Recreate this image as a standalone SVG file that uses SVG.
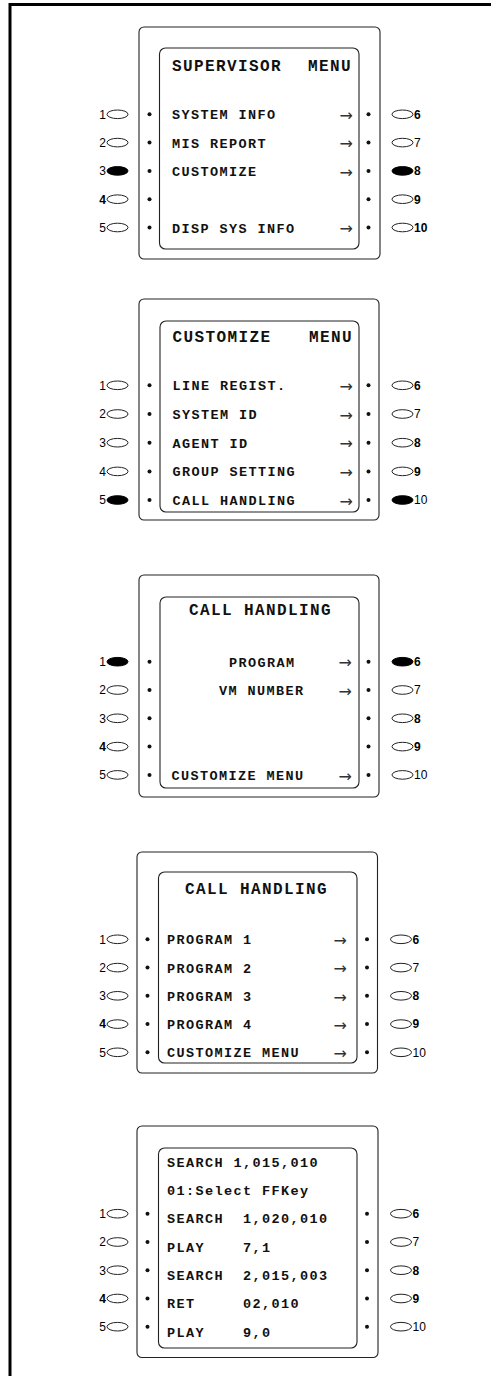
<svg xmlns="http://www.w3.org/2000/svg" width="491" height="1376" viewBox="0 0 491 1376">
<style>
.frame{fill:none;stroke:#000;stroke-width:3}
.pnl{fill:none;stroke:#222;stroke-width:1.1}
.t{font-family:"Liberation Mono","DejaVu Sans Mono",monospace;font-weight:bold;font-size:13.5px;letter-spacing:1.4px;fill:#111}
.ttl{font-size:16px;letter-spacing:1.4px}
.n{font-family:"Liberation Sans",Arial,sans-serif;font-size:12px;fill:#000}
.nr{text-anchor:end}
.b{font-weight:bold}
.a{font-family:"DejaVu Sans",sans-serif;font-size:16px;fill:#333;text-anchor:end}
.btn{fill:#fff;stroke:#222;stroke-width:1}
.on{fill:#000;stroke:#000}
.dot{fill:#111}
</style>
<defs>
<ellipse id="bt" cx="0" cy="0" rx="10.5" ry="4.3"/>
</defs>
<g id="frame">
<line class="frame" x1="10" y1="4.5" x2="491" y2="4.5"/>
<line class="frame" x1="10" y1="3" x2="10" y2="1376"/>
</g>

<g id="panel-supervisor-menu">
<rect class="pnl" x="139" y="27" width="241" height="232" rx="5"/>
<rect class="pnl" x="159.5" y="48" width="199.5" height="201" rx="6"/>
<text class="t ttl" x="172" y="71">SUPERVISOR</text>
<text class="t ttl" x="308" y="71">MENU</text>
<text class="t" x="172" y="119.3">SYSTEM INFO</text>
<text class="t" x="172" y="147.6">MIS REPORT</text>
<text class="t" x="172" y="175.9">CUSTOMIZE</text>
<text class="t" x="172" y="232.5">DISP SYS INFO</text>
<text class="a" x="353" y="121">→</text>
<text class="a" x="353" y="149.3">→</text>
<text class="a" x="353" y="177.6">→</text>
<text class="a" x="353" y="234.2">→</text>
<circle class="dot" cx="149.5" cy="114.3" r="2"/><circle class="dot" cx="149.5" cy="142.6" r="2"/><circle class="dot" cx="149.5" cy="170.9" r="2"/><circle class="dot" cx="149.5" cy="199.2" r="2"/><circle class="dot" cx="149.5" cy="227.5" r="2"/>
<circle class="dot" cx="368.5" cy="114.3" r="2"/><circle class="dot" cx="368.5" cy="142.6" r="2"/><circle class="dot" cx="368.5" cy="170.9" r="2"/><circle class="dot" cx="368.5" cy="199.2" r="2"/><circle class="dot" cx="368.5" cy="227.5" r="2"/>
<use href="#bt" class="btn" x="117.5" y="114.3"/><use href="#bt" class="btn" x="117.5" y="142.6"/><use href="#bt" class="btn on" x="117.5" y="170.9"/><use href="#bt" class="btn" x="117.5" y="199.2"/><use href="#bt" class="btn" x="117.5" y="227.5"/>
<use href="#bt" class="btn" x="402.5" y="114.3"/><use href="#bt" class="btn" x="402.5" y="142.6"/><use href="#bt" class="btn on" x="402.5" y="170.9"/><use href="#bt" class="btn" x="402.5" y="199.2"/><use href="#bt" class="btn" x="402.5" y="227.5"/>
<text class="n nr" x="106" y="118.6">1</text><text class="n nr" x="106" y="146.9">2</text><text class="n nr" x="106" y="175.2">3</text><text class="n nr b" x="106" y="203.5">4</text><text class="n nr" x="106" y="231.8">5</text>
<text class="n b" x="414" y="118.6">6</text><text class="n" x="414" y="146.9">7</text><text class="n b" x="414" y="175.2">8</text><text class="n b" x="414" y="203.5">9</text><text class="n b" x="414" y="231.8">10</text>
</g>

<g id="panel-customize-menu">
<rect class="pnl" x="139" y="299" width="240" height="221" rx="5"/>
<rect class="pnl" x="160" y="321" width="199" height="191" rx="6"/>
<text class="t ttl" x="172.5" y="341.5">CUSTOMIZE</text>
<text class="t ttl" x="309" y="341.5">MENU</text>
<text class="t" x="172.5" y="390.3">LINE REGIST.</text>
<text class="t" x="172.5" y="419">SYSTEM ID</text>
<text class="t" x="172.5" y="447.7">AGENT ID</text>
<text class="t" x="172.5" y="476.4">GROUP SETTING</text>
<text class="t" x="172.5" y="505">CALL HANDLING</text>
<text class="a" x="353" y="392">→</text>
<text class="a" x="353" y="420.7">→</text>
<text class="a" x="353" y="449.4">→</text>
<text class="a" x="353" y="478.1">→</text>
<text class="a" x="353" y="506.7">→</text>
<circle class="dot" cx="149.5" cy="385.3" r="2"/><circle class="dot" cx="149.5" cy="414" r="2"/><circle class="dot" cx="149.5" cy="442.7" r="2"/><circle class="dot" cx="149.5" cy="471.4" r="2"/><circle class="dot" cx="149.5" cy="500" r="2"/>
<circle class="dot" cx="368.5" cy="385.3" r="2"/><circle class="dot" cx="368.5" cy="414" r="2"/><circle class="dot" cx="368.5" cy="442.7" r="2"/><circle class="dot" cx="368.5" cy="471.4" r="2"/><circle class="dot" cx="368.5" cy="500" r="2"/>
<use href="#bt" class="btn" x="117.5" y="385.3"/><use href="#bt" class="btn" x="117.5" y="414"/><use href="#bt" class="btn" x="117.5" y="442.7"/><use href="#bt" class="btn" x="117.5" y="471.4"/><use href="#bt" class="btn on" x="117.5" y="500"/>
<use href="#bt" class="btn" x="402.5" y="385.3"/><use href="#bt" class="btn" x="402.5" y="414"/><use href="#bt" class="btn" x="402.5" y="442.7"/><use href="#bt" class="btn" x="402.5" y="471.4"/><use href="#bt" class="btn on" x="402.5" y="500"/>
<text class="n nr" x="106" y="389.6">1</text><text class="n nr" x="106" y="418.3">2</text><text class="n nr" x="106" y="447">3</text><text class="n nr" x="106" y="475.7">4</text><text class="n nr" x="106" y="504.3">5</text>
<text class="n b" x="414" y="389.6">6</text><text class="n" x="414" y="418.3">7</text><text class="n b" x="414" y="447">8</text><text class="n b" x="414" y="475.7">9</text><text class="n" x="414" y="504.3">10</text>
</g>

<g id="panel-call-handling">
<rect class="pnl" x="139" y="575" width="240" height="222" rx="5"/>
<rect class="pnl" x="160" y="597" width="199" height="191" rx="6"/>
<text class="t ttl" x="189" y="615">CALL HANDLING</text>
<text class="t" x="229" y="666.7">PROGRAM</text>
<text class="t" x="219" y="695">VM NUMBER</text>
<text class="t" x="171.5" y="779.9">CUSTOMIZE MENU</text>
<text class="a" x="352" y="668.4">→</text>
<text class="a" x="352" y="696.7">→</text>
<text class="a" x="352" y="781.6">→</text>
<circle class="dot" cx="149.5" cy="661.7" r="2"/><circle class="dot" cx="149.5" cy="690" r="2"/><circle class="dot" cx="149.5" cy="718.3" r="2"/><circle class="dot" cx="149.5" cy="746.6" r="2"/><circle class="dot" cx="149.5" cy="774.9" r="2"/>
<circle class="dot" cx="368.5" cy="661.7" r="2"/><circle class="dot" cx="368.5" cy="690" r="2"/><circle class="dot" cx="368.5" cy="718.3" r="2"/><circle class="dot" cx="368.5" cy="746.6" r="2"/><circle class="dot" cx="368.5" cy="774.9" r="2"/>
<use href="#bt" class="btn on" x="117.5" y="661.7"/><use href="#bt" class="btn" x="117.5" y="690"/><use href="#bt" class="btn" x="117.5" y="718.3"/><use href="#bt" class="btn" x="117.5" y="746.6"/><use href="#bt" class="btn" x="117.5" y="774.9"/>
<use href="#bt" class="btn on" x="402.5" y="661.7"/><use href="#bt" class="btn" x="402.5" y="690"/><use href="#bt" class="btn" x="402.5" y="718.3"/><use href="#bt" class="btn" x="402.5" y="746.6"/><use href="#bt" class="btn" x="402.5" y="774.9"/>
<text class="n nr" x="106" y="666">1</text><text class="n nr" x="106" y="694.3">2</text><text class="n nr" x="106" y="722.6">3</text><text class="n nr b" x="106" y="750.9">4</text><text class="n nr" x="106" y="779.2">5</text>
<text class="n b" x="414" y="666">6</text><text class="n" x="414" y="694.3">7</text><text class="n b" x="414" y="722.6">8</text><text class="n b" x="414" y="750.9">9</text><text class="n" x="414" y="779.2">10</text>
</g>

<g id="panel-call-handling-programs">
<rect class="pnl" x="137" y="852" width="240.5" height="221" rx="5"/>
<rect class="pnl" x="158.5" y="872" width="198.5" height="191" rx="6"/>
<text class="t ttl" x="185" y="894">CALL HANDLING</text>
<text class="t" x="167" y="944.3">PROGRAM 1</text>
<text class="t" x="167" y="972.6">PROGRAM 2</text>
<text class="t" x="167" y="1000.8">PROGRAM 3</text>
<text class="t" x="167" y="1029.1">PROGRAM 4</text>
<text class="t" x="167" y="1057.3">CUSTOMIZE MENU</text>
<text class="a" x="347" y="946">→</text>
<text class="a" x="347" y="974.3">→</text>
<text class="a" x="347" y="1002.5">→</text>
<text class="a" x="347" y="1030.8">→</text>
<text class="a" x="347" y="1059">→</text>
<circle class="dot" cx="147.5" cy="939.3" r="2"/><circle class="dot" cx="147.5" cy="967.6" r="2"/><circle class="dot" cx="147.5" cy="995.8" r="2"/><circle class="dot" cx="147.5" cy="1024.1" r="2"/><circle class="dot" cx="147.5" cy="1052.3" r="2"/>
<circle class="dot" cx="367" cy="939.3" r="2"/><circle class="dot" cx="367" cy="967.6" r="2"/><circle class="dot" cx="367" cy="995.8" r="2"/><circle class="dot" cx="367" cy="1024.1" r="2"/><circle class="dot" cx="367" cy="1052.3" r="2"/>
<use href="#bt" class="btn" x="117.5" y="939.3"/><use href="#bt" class="btn" x="117.5" y="967.6"/><use href="#bt" class="btn" x="117.5" y="995.8"/><use href="#bt" class="btn" x="117.5" y="1024.1"/><use href="#bt" class="btn" x="117.5" y="1052.3"/>
<use href="#bt" class="btn" x="401" y="939.3"/><use href="#bt" class="btn" x="401" y="967.6"/><use href="#bt" class="btn" x="401" y="995.8"/><use href="#bt" class="btn" x="401" y="1024.1"/><use href="#bt" class="btn" x="401" y="1052.3"/>
<text class="n nr" x="106" y="943.6">1</text><text class="n nr" x="106" y="971.9">2</text><text class="n nr" x="106" y="1000.1">3</text><text class="n nr b" x="106" y="1028.4">4</text><text class="n nr" x="106" y="1056.6">5</text>
<text class="n b" x="412.5" y="943.6">6</text><text class="n" x="412.5" y="971.9">7</text><text class="n b" x="412.5" y="1000.1">8</text><text class="n b" x="412.5" y="1028.4">9</text><text class="n" x="412.5" y="1056.6">10</text>
</g>

<g id="panel-program-steps">
<rect class="pnl" x="137" y="1126" width="241" height="231.5" rx="5"/>
<rect class="pnl" x="158.5" y="1148" width="198.5" height="200" rx="6"/>
<text class="t" x="167" y="1166.7">SEARCH 1,015,010</text>
<text class="t" x="167" y="1195">01:Select FFKey</text>
<text class="t" x="167" y="1223.3">SEARCH</text><text class="t" x="243" y="1223.3">1,020,010</text>
<text class="t" x="167" y="1251.6">PLAY</text><text class="t" x="243" y="1251.6">7,1</text>
<text class="t" x="167" y="1279.9">SEARCH</text><text class="t" x="243" y="1279.9">2,015,003</text>
<text class="t" x="167" y="1308.2">RET</text><text class="t" x="243" y="1308.2">02,010</text>
<text class="t" x="167" y="1336.5">PLAY</text><text class="t" x="243" y="1336.5">9,0</text>
<circle class="dot" cx="147.5" cy="1213.7" r="2"/><circle class="dot" cx="147.5" cy="1242" r="2"/><circle class="dot" cx="147.5" cy="1270.2" r="2"/><circle class="dot" cx="147.5" cy="1298.5" r="2"/><circle class="dot" cx="147.5" cy="1326.7" r="2"/>
<circle class="dot" cx="367" cy="1213.7" r="2"/><circle class="dot" cx="367" cy="1242" r="2"/><circle class="dot" cx="367" cy="1270.2" r="2"/><circle class="dot" cx="367" cy="1298.5" r="2"/><circle class="dot" cx="367" cy="1326.7" r="2"/>
<use href="#bt" class="btn" x="117.5" y="1213.7"/><use href="#bt" class="btn" x="117.5" y="1242"/><use href="#bt" class="btn" x="117.5" y="1270.2"/><use href="#bt" class="btn" x="117.5" y="1298.5"/><use href="#bt" class="btn" x="117.5" y="1326.7"/>
<use href="#bt" class="btn" x="401" y="1213.7"/><use href="#bt" class="btn" x="401" y="1242"/><use href="#bt" class="btn" x="401" y="1270.2"/><use href="#bt" class="btn" x="401" y="1298.5"/><use href="#bt" class="btn" x="401" y="1326.7"/>
<text class="n nr" x="106" y="1218">1</text><text class="n nr" x="106" y="1246.3">2</text><text class="n nr" x="106" y="1274.5">3</text><text class="n nr b" x="106" y="1302.8">4</text><text class="n nr" x="106" y="1331">5</text>
<text class="n b" x="412.5" y="1218">6</text><text class="n" x="412.5" y="1246.3">7</text><text class="n b" x="412.5" y="1274.5">8</text><text class="n b" x="412.5" y="1302.8">9</text><text class="n" x="412.5" y="1331">10</text>
</g>
</svg>
